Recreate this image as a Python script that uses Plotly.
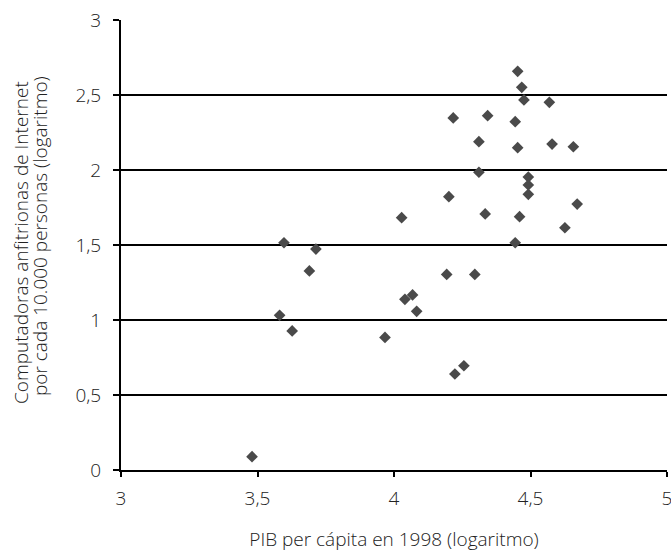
import plotly.graph_objects as go

# PIB per cápita en 1998 (logaritmo)
pib_log = [3.48, 3.597, 3.714, 3.69, 3.581, 3.627,
           4.453, 4.468, 4.476, 4.569, 4.217, 4.343, 4.444, 4.311, 4.453,
           4.579, 4.657, 4.311, 4.492, 4.492, 4.492, 4.201, 4.671, 4.028,
           4.334, 4.460, 4.626, 4.444, 4.193, 4.296, 4.040, 4.068, 4.083,
           3.967, 4.256, 4.223]
# Computadoras anfitrionas de Internet por cada 10.000 personas (logaritmo)
hosts_log = [0.089, 1.515, 1.473, 1.327, 1.031, 0.927,
             2.658, 2.551, 2.467, 2.451, 2.347, 2.362, 2.322, 2.189, 2.149,
             2.173, 2.155, 1.985, 1.953, 1.900, 1.838, 1.822, 1.773, 1.682,
             1.707, 1.689, 1.615, 1.515, 1.304, 1.304, 1.138, 1.167, 1.058,
             0.884, 0.695, 0.640]

x_ticks = [3, 3.5, 4, 4.5, 5]
y_ticks = [0, 0.5, 1, 1.5, 2, 2.5, 3]
grid_lines = [0.5, 1, 1.5, 2, 2.5]

x_title = "PIB per cápita en 1998 (logaritmo)"
y_title_lines = ["Computadoras anfitrionas de Internet",
                 "por cada 10.000 personas (logaritmo)"]

FONT = dict(family="Open Sans, Liberation Sans, sans-serif", size=19, color="#222222", weight=300)

fig = go.Figure()
fig.add_trace(go.Scatter(
    x=pib_log, y=hosts_log, mode="markers",
    marker=dict(symbol="diamond", size=9, color="#4a4a4a", line=dict(width=0)),
    showlegend=False, hoverinfo="x+y",
))

shapes = [dict(type="line", xref="paper", yref="y", x0=0, x1=1, y0=g, y1=g,
               line=dict(color="black", width=2), layer="below") for g in grid_lines]

annotations = [
    dict(text=y_title_lines[0], xref="paper", yref="paper", x=0, y=0.5,
         xanchor="center", yanchor="middle", xshift=-100, yshift=2,
         textangle=-90, showarrow=False, font=FONT),
    dict(text=y_title_lines[1], xref="paper", yref="paper", x=0, y=0.5,
         xanchor="center", yanchor="middle", xshift=-81, yshift=9,
         textangle=-90, showarrow=False, font=FONT),
]

fig.update_layout(
    width=671, height=552,
    margin=dict(l=121, r=4, t=20, b=82),
    paper_bgcolor="white", plot_bgcolor="white",
    separators=",.",
    font=FONT,
    shapes=shapes,
    annotations=annotations,
    xaxis=dict(
        range=[3, 5], tickvals=x_ticks, showgrid=False, zeroline=False,
        showline=True, linecolor="black", linewidth=2,
        ticks="outside", ticklen=5, tickwidth=2, tickcolor="black",
        ticklabelstandoff=5, tickfont=FONT, ticklabeloverflow="allow",
        title=dict(text=x_title, font=FONT, standoff=39),
        automargin=False,
    ),
    yaxis=dict(
        range=[0, 3], tickvals=y_ticks, showgrid=False, zeroline=False,
        showline=True, linecolor="black", linewidth=2,
        ticks="outside", ticklen=6, tickwidth=2, tickcolor="black",
        ticklabelstandoff=8, tickfont=FONT, ticklabeloverflow="allow",
        automargin=False,
    ),
)

# remove the default page margin so the figure fills the 671x552 window exactly
fig.write_html("out.html", config={"displayModeBar": False},
               post_script="document.body.style.margin='0';")
